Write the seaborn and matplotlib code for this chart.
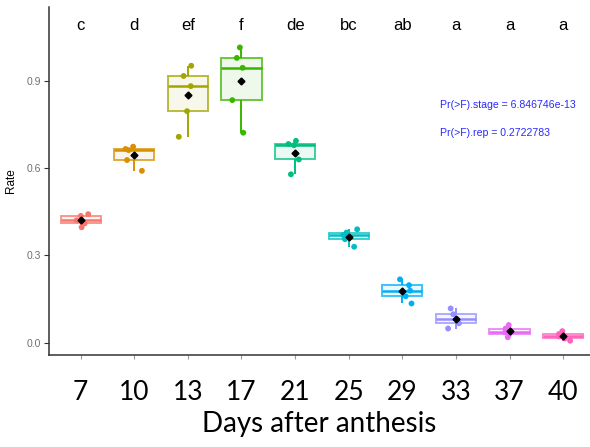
import numpy as np
import pandas as pd
import matplotlib
matplotlib.use("Agg")
import matplotlib.pyplot as plt
import seaborn as sns
from matplotlib.colors import to_rgba

# Days after anthesis (categories) and the five measurements per stage
days = ["7", "10", "13", "17", "21", "25", "29", "33", "37", "40"]
rate_7 = [0.397, 0.410, 0.421, 0.436, 0.442]
rate_10 = [0.591, 0.628, 0.662, 0.666, 0.674]
rate_13 = [0.708, 0.796, 0.882, 0.917, 0.952]
rate_17 = [0.722, 0.834, 0.945, 0.979, 1.015]
rate_21 = [0.579, 0.630, 0.679, 0.683, 0.694]
rate_25 = [0.330, 0.356, 0.370, 0.379, 0.390]
rate_29 = [0.135, 0.160, 0.179, 0.198, 0.218]
rate_33 = [0.049, 0.067, 0.081, 0.098, 0.118]
rate_37 = [0.019, 0.029, 0.036, 0.049, 0.061]
rate_40 = [0.007, 0.015, 0.022, 0.030, 0.040]
letters = ["c", "d", "ef", "f", "de", "bc", "ab", "a", "a", "a"]
anova_lines = ["Pr(>F).stage = 6.846746e-13", "Pr(>F).rep = 0.2722783"]

rates = [rate_7, rate_10, rate_13, rate_17, rate_21,
         rate_25, rate_29, rate_33, rate_37, rate_40]
df = pd.DataFrame({
    "day": np.repeat(days, [len(r) for r in rates]),
    "rate": np.concatenate(rates),
})

palette = ["#F8766D", "#D89000", "#A3A500", "#39B600", "#00BF7D",
           "#00BFC4", "#00B0F6", "#9590FF", "#E76BF3", "#FF62BC"]

sns.set_theme(style="white")
plt.rcParams["font.family"] = ["Liberation Sans", "DejaVu Sans"]

fig = plt.figure(figsize=(5.9, 4.47), dpi=100)
ax = fig.add_axes([49 / 590, 1 - 355 / 447, 541 / 590, 348 / 447])

sns.boxplot(data=df, x="day", y="rate", hue="day", order=days,
            hue_order=days, palette=palette, fill=True, width=0.75,
            linewidth=1.4, showcaps=False, showfliers=False,
            showmeans=True, legend=False, saturation=1,
            medianprops={"linewidth": 1.8},
            meanprops={"marker": "D", "markerfacecolor": "black",
                       "markeredgecolor": "black", "markersize": 3.5,
                       "zorder": 5},
            ax=ax)

# colour each box outline in its group hue, with a light tint inside
for patch in ax.patches:
    fc = patch.get_facecolor()
    patch.set_facecolor(to_rgba(fc[:3], 0.08))
    patch.set_edgecolor(to_rgba(fc[:3], 0.75))

# whiskers and medians take the colour of their group
for line in ax.lines:
    if line.get_marker() == "D":
        line.set_zorder(6)
        continue
    xs = np.asarray(line.get_xdata(), dtype=float)
    if xs.size:
        idx = int(round(float(np.mean(xs))))
        line.set_color(palette[idx])

np.random.seed(3)
sns.stripplot(data=df, x="day", y="rate", hue="day", order=days,
              hue_order=days, palette=palette, jitter=0.18, size=4.2,
              legend=False, zorder=4, ax=ax)

for i, lab in enumerate(letters):
    ax.text(i, 1.092, lab, ha="center", va="center", fontsize=12,
            color="black")

ax.text(6.7, 0.817, anova_lines[0], ha="left", va="center",
        fontsize=7.6, color="#2A2AFF")
ax.text(6.7, 0.721, anova_lines[1], ha="left", va="center",
        fontsize=7.6, color="#2A2AFF")

ax.set_xlim(-0.59, 9.5)
ax.set_ylim(-0.042, 1.154)
ax.set_yticks([0.0, 0.3, 0.6, 0.9])
ax.set_yticklabels(["0.0", "0.3", "0.6", "0.9"])

for s in ["top", "right"]:
    ax.spines[s].set_visible(False)
for s in ["left", "bottom"]:
    ax.spines[s].set_color("#333333")
    ax.spines[s].set_linewidth(1.1)

ax.tick_params(axis="y", length=3.5, width=0.8, color="#333333",
               labelsize=7.5, labelcolor="#707070", pad=2, left=True)
ax.tick_params(axis="x", length=3, width=0.8, color="#9a9a9a",
               labelsize=19, labelcolor="black", pad=15, bottom=True)
for t in ax.get_xticklabels():
    t.set_fontfamily("Lato")

ax.set_ylabel("Rate", fontsize=8.5, color="black")
ax.yaxis.set_label_coords(-0.059, 0.5)
ax.set_xlabel("Days after anthesis", fontsize=20, fontfamily="Lato",
              color="black", labelpad=4)

fig.savefig("out.png", dpi=100, facecolor="white")
